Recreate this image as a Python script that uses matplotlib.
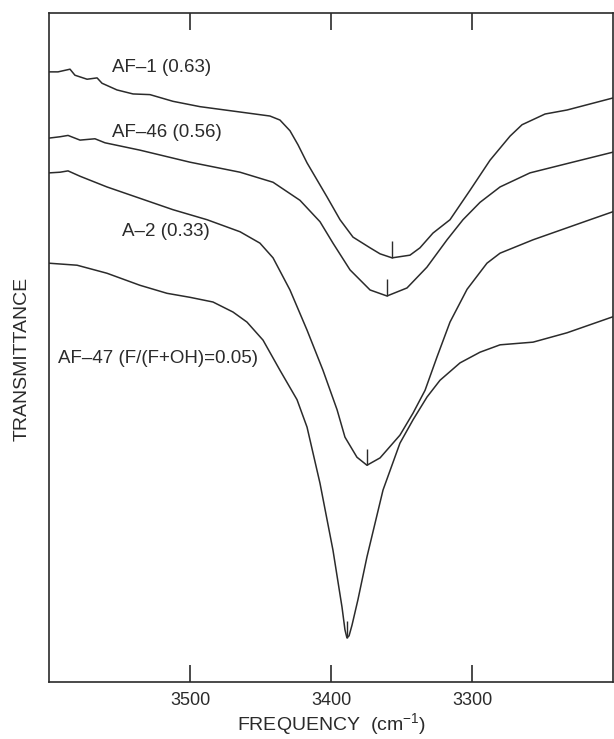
import matplotlib
matplotlib.use("Agg")
import matplotlib.pyplot as plt

plt.rcParams['font.family'] = ['Liberation Sans', 'DejaVu Sans']
plt.rcParams['mathtext.default'] = 'regular'

# IR spectra in the OH-stretching region, transmittance in arbitrary units
af1_freq = [3600, 3593.6, 3585.1, 3581.6, 3573.0, 3565.9, 3562.4, 3551.8, 3540.4, 3528.4,
            3512.1, 3492.9, 3464.5, 3443.3, 3436.2, 3429.1, 3423.4, 3417.0, 3402.8, 3393.6,
            3384.4, 3372.3, 3365.2, 3356.7, 3344.0, 3336.9, 3327.7, 3315.6, 3301.4, 3287.2,
            3273.0, 3264.5, 3248.2, 3232.6, 3200]
af1_trans = [91.2, 91.2, 91.6, 90.7, 90.1, 90.3, 89.5, 88.5, 87.9, 87.8,
             86.8, 86.0, 85.2, 84.6, 84.0, 82.4, 80.3, 77.6, 72.5, 69.1,
             66.5, 64.9, 64.0, 63.4, 63.8, 64.9, 67.1, 69.1, 73.5, 78.0,
             81.6, 83.3, 84.9, 85.5, 87.3]

af46_freq = [3600, 3592.2, 3586.5, 3578.0, 3567.4, 3560.3, 3535.5, 3500, 3464.5, 3441.1,
             3422.0, 3407.8, 3398.6, 3386.5, 3372.3, 3360.3, 3346.1, 3332.0, 3317.7, 3306.4,
             3294.3, 3280.1, 3258.9, 3230.5, 3200]
af46_trans = [81.3, 81.5, 81.7, 81.0, 81.2, 80.6, 79.5, 77.7, 76.2, 74.7,
              72.0, 68.8, 65.6, 61.6, 58.6, 57.7, 58.9, 62.0, 66.1, 69.1,
              71.7, 74.0, 76.1, 77.6, 79.2]

a2_freq = [3600, 3592.2, 3586.5, 3578.0, 3558.9, 3535.5, 3512.1, 3487.9, 3464.5, 3450.4,
           3441.1, 3429.1, 3417.0, 3405.7, 3395.7, 3390.1, 3381.6, 3374.5, 3365.2, 3351.1,
           3341.8, 3333.3, 3324.8, 3315.6, 3303.5, 3289.4, 3280.1, 3256.7, 3216.3, 3200]
a2_trans = [76.1, 76.2, 76.4, 75.6, 74.0, 72.3, 70.6, 69.1, 67.3, 65.6,
            63.4, 58.6, 52.6, 46.6, 40.7, 36.6, 33.6, 32.4, 33.5, 36.9,
            40.2, 43.6, 48.6, 53.8, 58.7, 62.6, 64.1, 66.1, 69.1, 70.3]

af47_freq = [3600, 3580.1, 3558.9, 3535.5, 3516.3, 3500, 3483.7, 3469.5, 3459.6, 3448.2,
             3436.2, 3424.1, 3417.0, 3407.8, 3398.6, 3392.2, 3390.1, 3388.7, 3387.2, 3385.1,
             3380.9, 3374.5, 3363.1, 3351.1, 3341.8, 3331.9, 3322.7, 3308.5, 3294.3, 3280.1,
             3256.7, 3232.6, 3200]
af47_trans = [62.6, 62.3, 61.1, 59.3, 58.1, 57.5, 56.8, 55.3, 53.8, 51.1,
              46.6, 42.2, 38.1, 29.7, 19.7, 11.2, 7.8, 6.6, 6.9, 8.5,
              12.3, 18.7, 28.7, 35.7, 39.2, 42.6, 45.1, 47.7, 49.3, 50.4,
              50.8, 52.2, 54.6]

# band minima marked with a short vertical stroke
min_freq = [3356.7, 3360.3, 3374.5, 3388.7]
min_trans = [63.4, 57.7, 32.4, 6.6]
min_mark = 2.5

labels = ['AF\u20131 (0.63)', 'AF\u201346 (0.56)', 'A\u20132 (0.33)',
          'AF\u201347 (F/(F+OH)=0.05)']
xticks = [3500, 3400, 3300]

fig = plt.figure(figsize=(6.14, 7.39), dpi=100)
ax = fig.add_axes([49 / 614, 57 / 739, 564 / 614, 669 / 739])

ink = '#2b2b2b'
for fx, ty in [(af1_freq, af1_trans), (af46_freq, af46_trans),
               (a2_freq, a2_trans), (af47_freq, af47_trans)]:
    ax.plot(fx, ty, color=ink, lw=1.1, solid_joinstyle='round')

ax.vlines(min_freq, min_trans, [t + min_mark for t in min_trans], color=ink, lw=1.0)

# curve labels
label_pos = [(3555.3, 91.9), (3555.3, 82.2), (3548.2, 67.3), (3593.6, 48.4)]
for text, (lx, ly) in zip(labels, label_pos):
    ax.text(lx, ly, text, fontsize=13.5, color=ink, ha='left', va='center')

ax.set_xlim(3600, 3200)
ax.set_ylim(0, 100)
ax.set_xticks(xticks)
ax.set_xticklabels([str(t) for t in xticks])
ax.set_yticks([])
ax.tick_params(axis='x', direction='in', length=12, width=1.2, top=True,
               labelsize=13, pad=7, colors=ink)
for s in ax.spines.values():
    s.set_linewidth(1.2)
    s.set_color(ink)

fig.text(332 / 614, 15 / 739, r'FREQUENCY  (cm$^{-1}$)', fontsize=14,
         ha='center', va='center', color=ink)
fig.text(22 / 614, 380 / 739, 'TRANSMITTANCE', fontsize=14, rotation=90,
         ha='center', va='center', color=ink)

fig.savefig('out.png', dpi=100)
